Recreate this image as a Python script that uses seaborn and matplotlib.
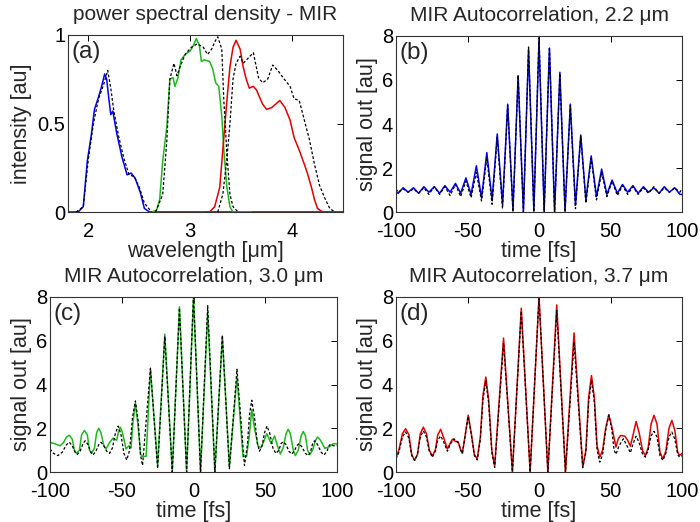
import matplotlib
matplotlib.use("Agg")
import matplotlib.pyplot as plt
import seaborn as sns

# ---------------- panel (a): power spectral density ----------------
wl_blue = [1.80, 1.90, 1.95, 1.99, 2.03, 2.06, 2.10, 2.13, 2.16, 2.18, 2.195, 2.22, 2.24, 2.28,
           2.33, 2.38, 2.42, 2.46, 2.51, 2.55, 2.60, 4.50]
psd_blue = [0, 0, 0.03, 0.29, 0.44, 0.58, 0.65, 0.71, 0.78, 0.75, 0.67, 0.55, 0.57, 0.44,
            0.31, 0.21, 0.22, 0.19, 0.11, 0.02, 0, 0]
wl_blue_th = [1.88, 1.95, 2.00, 2.05, 2.10, 2.15, 2.19, 2.22, 2.25, 2.30, 2.35, 2.40, 2.45,
              2.50, 2.55, 2.62]
psd_blue_th = [0, 0.03, 0.30, 0.50, 0.64, 0.72, 0.80, 0.70, 0.57, 0.42, 0.30, 0.21, 0.20,
               0.14, 0.05, 0]
wl_green = [2.62, 2.67, 2.70, 2.73, 2.77, 2.80, 2.83, 2.85, 2.88, 2.91, 2.95, 3.00, 3.03, 3.06,
            3.09, 3.11, 3.14, 3.19, 3.22, 3.25, 3.28, 3.31, 3.33, 3.36, 3.39, 3.42, 3.60]
psd_green = [0, 0.01, 0.07, 0.29, 0.48, 0.75, 0.76, 0.71, 0.76, 0.86, 0.89, 0.91, 0.94, 0.98,
             0.94, 0.85, 0.86, 0.85, 0.81, 0.73, 0.71, 0.54, 0.35, 0.14, 0.03, 0, 0]
wl_green_th = [2.66, 2.73, 2.77, 2.80, 2.84, 2.87, 2.90, 2.95, 3.01, 3.07, 3.13, 3.17, 3.21,
               3.24, 3.27, 3.31, 3.33, 3.36, 3.39, 3.42, 3.47]
psd_green_th = [0, 0.10, 0.40, 0.75, 0.84, 0.77, 0.82, 0.89, 0.93, 0.95, 0.93, 0.89, 0.92,
                0.96, 0.99, 0.92, 0.63, 0.33, 0.10, 0.03, 0]
wl_red = [3.15, 3.19, 3.24, 3.29, 3.32, 3.36, 3.39, 3.42, 3.45, 3.49, 3.52, 3.55, 3.58, 3.62,
          3.65, 3.68, 3.71, 3.75, 3.80, 3.84, 3.88, 3.93, 3.98, 4.02, 4.07, 4.12, 4.15, 4.19,
          4.22, 4.25, 4.30, 4.35]
psd_red = [0, 0, 0.03, 0.14, 0.35, 0.63, 0.82, 0.93, 0.97, 0.92, 0.82, 0.75, 0.70, 0.71,
           0.69, 0.65, 0.61, 0.58, 0.59, 0.61, 0.63, 0.59, 0.52, 0.42, 0.35, 0.27, 0.22, 0.14,
           0.07, 0.02, 0, 0]
wl_red_th = [3.27, 3.32, 3.36, 3.39, 3.42, 3.45, 3.49, 3.52, 3.57, 3.62, 3.67, 3.71, 3.76,
             3.81, 3.86, 3.91, 3.98, 4.02, 4.07, 4.12, 4.17, 4.22, 4.27, 4.32, 4.37, 4.42]
psd_red_th = [0, 0.10, 0.30, 0.50, 0.75, 0.84, 0.88, 0.84, 0.87, 0.90, 0.76, 0.73, 0.75,
              0.83, 0.80, 0.76, 0.71, 0.64, 0.63, 0.52, 0.41, 0.27, 0.15, 0.08, 0.02, 0]

# ---------------- panel (b): autocorrelation 2.2 um ----------------
t_b = [-100, -98.5, -95, -91.5, -87.8, -84.2, -80.5, -77, -73.2, -69.5, -65.8, -62.2, -58.4,
       -54.8, -51.1, -47.5, -43.8, -40.2, -36.5, -32.8, -29.2, -25.5, -21.9, -18.2, -14.6,
       -10.9, -7.3, -3.6, 0, 3.6, 7.3, 10.9, 14.6, 18.2, 21.9, 25.5, 29.2, 32.8, 36.5, 40.2,
       43.8, 47.5, 51.1, 54.8, 58.4, 62.0, 65.7, 69.3, 73.0, 76.6, 80.3, 84.0, 87.6, 91.2,
       94.9, 98.5, 100]
sig_b_meas = [0.95, 0.85, 1.1, 0.9, 1.1, 0.85, 1.15, 0.9, 1.15, 0.85, 1.2, 0.9, 1.3,
              0.85, 1.55, 0.8, 2.1, 0.65, 2.7, 0.55, 3.55, 0.35, 4.9, 0.1, 6.2,
              0.02, 7.4, 0.05, 7.8, 0.05, 7.45, 0.0, 6.35, 0.05, 4.9, 0.3, 3.5, 0.55, 2.55, 0.7,
              1.95, 0.8, 1.45, 0.85, 1.25, 0.9, 1.2, 0.85, 1.15, 0.9, 1.1, 0.85, 1.15, 0.9,
              1.1, 0.8, 0.8]
sig_b_th = [1.05, 0.9, 1.05, 0.9, 1.05, 0.85, 1.1, 0.8, 1.15, 0.8, 1.15, 0.75, 1.25,
            0.7, 1.4, 0.65, 1.8, 0.5, 2.45, 0.35, 3.4, 0.15, 4.85, 0.0, 6.2,
            0.0, 7.5, 0.0, 8.0, 0.0, 7.5, 0.0, 6.3, 0.0, 4.85, 0.15, 3.45, 0.4, 2.45, 0.55,
            1.8, 0.7, 1.4, 0.75, 1.2, 0.8, 1.15, 0.8, 1.1, 0.85, 1.15, 0.85, 1.1, 0.9,
            1.1, 0.9, 1.05]

# ---------------- panel (c): autocorrelation 3.0 um ----------------
t_c_meas = [-100, -97, -93, -90.5, -88.5, -86.5, -84.5, -83, -81.5, -79.5, -78, -76, -74,
            -72.5, -71, -69, -67.5, -66, -64.5, -62.5, -61, -58.5, -56, -53.5, -52.3, -51,
            -49.5, -47, -45, -43.5, -42.3, -40.5, -38.8, -36.8, -35.5, -33, -30, -25, -20,
            -14.8, -9.8, -4.8, 0, 4.9, 9.9, 14.9, 20.1, 25, 30.3, 34.5, 37, 38.8, 40.6, 42.5,
            45, 47, 49, 51, 52.5, 54, 56.5, 58.5, 60.5, 62.5, 64.5, 66, 67.5, 69.5, 71, 73,
            75, 76.5, 78, 79.5, 81, 83, 85, 86.5, 88.5, 91.5, 94.5, 97.5, 100]
sig_c_meas = [1.35, 1.3, 1.2, 1.35, 1.6, 1.68, 1.5, 1.0, 0.85, 1.0, 1.7, 1.9, 1.7,
              1.0, 0.85, 1.1, 1.8, 2.0, 1.8, 1.2, 1.05, 1.35, 1.55, 1.45, 1.85, 2.05,
              1.8, 1.05, 1.2, 1.1, 2.2, 3.15, 2.2, 0.8, 0.7, 0.72, 4.7, 0.3, 6.3,
              0.0, 7.55, 0.0, 8.0, 0.0, 7.3, 0.0, 6.2, 0.25, 4.35, 0.7, 0.72, 1.6, 2.85, 2.0,
              1.2, 1.1, 1.4, 1.75, 1.55, 1.3, 1.65, 1.2, 0.82, 1.1, 1.75, 1.95, 1.75, 1.0, 0.75,
              1.0, 1.65, 1.85, 1.65, 1.0, 0.8, 1.0, 1.45, 1.6, 1.45, 1.08, 1.15, 1.3, 1.28]
t_c_th = [-100, -97.5, -94.5, -91.5, -88.5, -86.5, -84.5, -82.5, -81, -79, -77, -75.5, -73.5,
          -71.5, -70, -68, -66, -64.5, -62.5, -60.5, -58.5, -56.5, -54.5, -52.5, -50.5, -48.5,
          -46.5, -44.5, -42.5, -40.5, -38.5, -37, -35.5, -30, -25, -20, -14.8, -9.8, -4.8, 0,
          4.9, 9.9, 14.9, 20.1, 25, 30.3, 35.5, 37.5, 39, 40.6, 42.5, 44.5, 46, 47.8, 49.5,
          51.2, 53, 55.5, 57.5, 59.5, 61, 62.5, 64.5, 66.5, 68.5, 70.5, 72, 73.5, 75.5, 78,
          80, 81.5, 83, 84.5, 86.5, 89, 91, 93, 94.5, 95.5, 97.5, 100]
sig_c_th = [1.05, 0.85, 0.75, 0.9, 1.25, 1.36, 1.2, 0.9, 0.8, 0.95, 1.3, 1.43, 1.25,
            0.9, 0.78, 0.95, 1.25, 1.36, 1.2, 0.95, 0.85, 1.1, 1.75, 2.1, 1.7, 0.85,
            0.55, 1.0, 2.5, 3.25, 2.3, 0.8, 0.3, 4.75, 0.15, 6.2, 0.0, 7.5, 0.0, 8.1,
            0.0, 7.6, 0.0, 6.25, 0.15, 4.7, 0.3, 1.2, 2.6, 3.28, 2.5, 1.3, 0.95, 1.2, 1.8,
            2.1, 1.8, 1.05, 0.85, 1.0, 1.3, 1.38, 1.25, 0.95, 0.82, 1.0, 1.2, 1.3, 1.15, 0.85,
            0.75, 0.9, 1.3, 1.43, 1.25, 0.9, 0.78, 0.95, 1.2, 1.27, 1.2, 1.2]

# ---------------- panel (d): autocorrelation 3.7 um ----------------
t_d_meas = [-100, -98, -95.5, -93.3, -91, -89, -87, -85, -83, -80.9, -78.7, -76.7, -74.6,
            -72.5, -70.8, -68.8, -66.8, -64.1, -62.2, -60.5, -58.5, -56.5, -55, -53.6, -51.8,
            -49.5, -47.2, -45.2, -43.2, -41, -39.2, -37.2, -35.2, -33, -31, -24.8, -18.6,
            -12.4, -6.2, 0, 6.2, 12.4, 18.5, 24.5, 30.6, 32.8, 34.7, 36.7, 38.7, 40.6, 42.5,
            44.5, 46.6, 48.8, 50.8, 53.8, 55.3, 57, 60, 62, 63.9, 65.8, 67.9, 70, 72.5, 74.4,
            76.3, 78.4, 80.4, 82.5, 84.6, 86.6, 88.7, 90.9, 92.9, 95, 97, 98.3, 100]
sig_d_meas = [0.65, 1.0, 1.75, 1.98, 1.7, 0.8, 0.53, 0.8, 1.75, 2.05, 1.75, 1.0, 0.73,
              1.0, 1.7, 1.95, 1.6, 1.05, 1.3, 1.5, 1.4, 1.38, 1.05, 0.85, 1.6,
              2.6, 1.7, 0.8, 0.6, 1.6, 3.5, 4.34, 3.3, 1.0, 0.27, 6.12, 0.0,
              7.49, 0.0, 8.0, 0.0, 7.64, 0.0, 6.36, 0.23, 1.0, 3.4, 4.41, 3.4, 1.2, 0.68,
              1.0, 2.0, 2.62, 2.1, 1.14, 1.5, 1.67, 1.64, 1.45, 1.18, 1.7, 2.31, 1.8, 0.95, 0.76,
              1.1, 2.2, 2.59, 2.2, 0.9, 0.6, 0.95, 2.0, 2.36, 1.9, 0.9, 0.76, 0.85]
t_d_th = [-100, -98, -95.5, -93.3, -91, -89, -87, -85, -83, -80.9, -78.7, -76.7, -74.6,
          -72.5, -70.8, -68.8, -66.8, -64.1, -61.8, -59.5, -57.5, -56, -54.8, -53.6, -51.8,
          -49.5, -47.2, -45.2, -43.2, -41, -39.2, -37.2, -35.2, -33, -31, -24.8, -18.6,
          -12.4, -6.2, 0, 6.2, 12.4, 18.5, 24.5, 30.6, 32.8, 34.7, 36.7, 38.7, 40.6, 42.5,
          44.5, 46.6, 48.8, 50.8, 52.5, 53.8, 56, 59, 61.5, 63.9, 65.8, 67.9, 70, 72.5, 74.4,
          76.3, 78.4, 80.4, 82.5, 84.6, 86.6, 88.7, 90.9, 92.9, 95, 97, 98.3, 100]
sig_d_th = [0.6, 0.9, 1.6, 1.83, 1.55, 0.75, 0.53, 0.8, 1.6, 1.88, 1.6, 0.95, 0.68,
            0.95, 1.45, 1.65, 1.4, 0.95, 1.3, 1.52, 1.4, 1.3, 1.0, 0.85, 1.6,
            2.55, 1.65, 0.75, 0.55, 1.5, 3.3, 4.15, 3.15, 0.9, 0.2, 5.9, 0.0,
            7.35, 0.0, 8.0, 0.0, 7.38, 0.0, 5.94, 0.2, 0.9, 3.2, 4.19, 3.2, 1.0, 0.45,
            0.8, 1.9, 2.6, 2.0, 1.0, 0.81, 1.2, 1.52, 1.2, 0.88, 1.3, 1.64, 1.35, 0.8, 0.68,
            1.0, 1.65, 1.86, 1.6, 0.75, 0.53, 0.85, 1.6, 1.83, 1.5, 0.8, 0.68, 0.75]

# tick labels
psd_yticks = [0, 0.5, 1]
psd_yticklabels = ["0", "0.5", "1"]
psd_xticks = [2, 3, 4]
ac_xticks = [-100, -50, 0, 50, 100]
ac_yticks = [0, 2, 4, 6, 8]

BLUE = "#0000ff"
GREEN = "#1fb81f"
RED = "#e00000"

sns.set_style("white")
plt.rcParams["font.family"] = ["Liberation Sans", "DejaVu Sans"]
plt.rcParams["axes.unicode_minus"] = False

fig = plt.figure(figsize=(7.0, 5.22), dpi=100)
W, H = 700.0, 522.0


def make_ax(left, top, right, bottom):
    return fig.add_axes([left / W, 1 - bottom / H, (right - left) / W, (bottom - top) / H])


ax_a = make_ax(68, 35, 343, 212)
ax_b = make_ax(396, 36, 682, 212)
ax_c = make_ax(50, 297, 337, 472)
ax_d = make_ax(396, 297, 682, 472)

LW = 1.1
DASH = dict(color="black", lw=0.9, linestyle=(0, (2.2, 1.6)))
TFS = 15
LFS = 15.5
KFS = 14.5
TPAD = 11


def line(ax, x, y, **kw):
    sns.lineplot(x=x, y=y, ax=ax, sort=False, estimator=None, legend=False, **kw)


# panel (a)
line(ax_a, wl_blue, psd_blue, color=BLUE, lw=LW)
line(ax_a, wl_green, psd_green, color=GREEN, lw=LW)
line(ax_a, wl_red, psd_red, color=RED, lw=LW)
line(ax_a, wl_blue_th, psd_blue_th, **DASH)
line(ax_a, wl_green_th, psd_green_th, **DASH)
line(ax_a, wl_red_th, psd_red_th, **DASH)
ax_a.set_xlim(1.8, 4.5)
ax_a.set_ylim(0, 1)
ax_a.set_xticks(psd_xticks)
ax_a.set_yticks(psd_yticks)
ax_a.set_yticklabels(psd_yticklabels)
ax_a.set_title("power spectral density - MIR", fontsize=TFS, pad=TPAD)
ax_a.set_xlabel("wavelength [\u03bcm]", fontsize=LFS, labelpad=0)
ax_a.set_ylabel("intensity [au]", fontsize=LFS, labelpad=4)

# panels (b)-(d)
line(ax_b, t_b, sig_b_meas, color=BLUE, lw=LW)
line(ax_b, t_b, sig_b_th, **DASH)
line(ax_c, t_c_meas, sig_c_meas, color=GREEN, lw=LW)
line(ax_c, t_c_th, sig_c_th, **DASH)
line(ax_d, t_d_meas, sig_d_meas, color=RED, lw=LW)
line(ax_d, t_d_th, sig_d_th, **DASH)

titles = {ax_b: "MIR Autocorrelation, 2.2 \u03bcm",
          ax_c: "MIR Autocorrelation, 3.0 \u03bcm",
          ax_d: "MIR Autocorrelation, 3.7 \u03bcm"}
for ax, ttl in titles.items():
    ax.set_xlim(-100, 100)
    ax.set_ylim(0, 8)
    ax.set_xticks(ac_xticks)
    ax.set_yticks(ac_yticks)
    ax.set_title(ttl, fontsize=TFS, pad=TPAD)
    ax.set_xlabel("time [fs]", fontsize=LFS, labelpad=0)
    ax.set_ylabel("signal out [au]", fontsize=LFS, labelpad=3)

for ax, lab in [(ax_a, "(a)"), (ax_b, "(b)"), (ax_c, "(c)"), (ax_d, "(d)")]:
    ax.text(0.012, 0.965, lab, transform=ax.transAxes, fontsize=17.5, ha="left", va="top")
    ax.tick_params(direction="in", top=True, right=True, length=4, width=0.7,
                   labelsize=KFS, colors="black")
    ax.tick_params(axis="x", pad=7)
    ax.tick_params(axis="y", pad=2)
    for sp in ax.spines.values():
        sp.set_visible(True)
        sp.set_color("#333333")
        sp.set_linewidth(0.8)

fig.savefig("out.png", dpi=100)
